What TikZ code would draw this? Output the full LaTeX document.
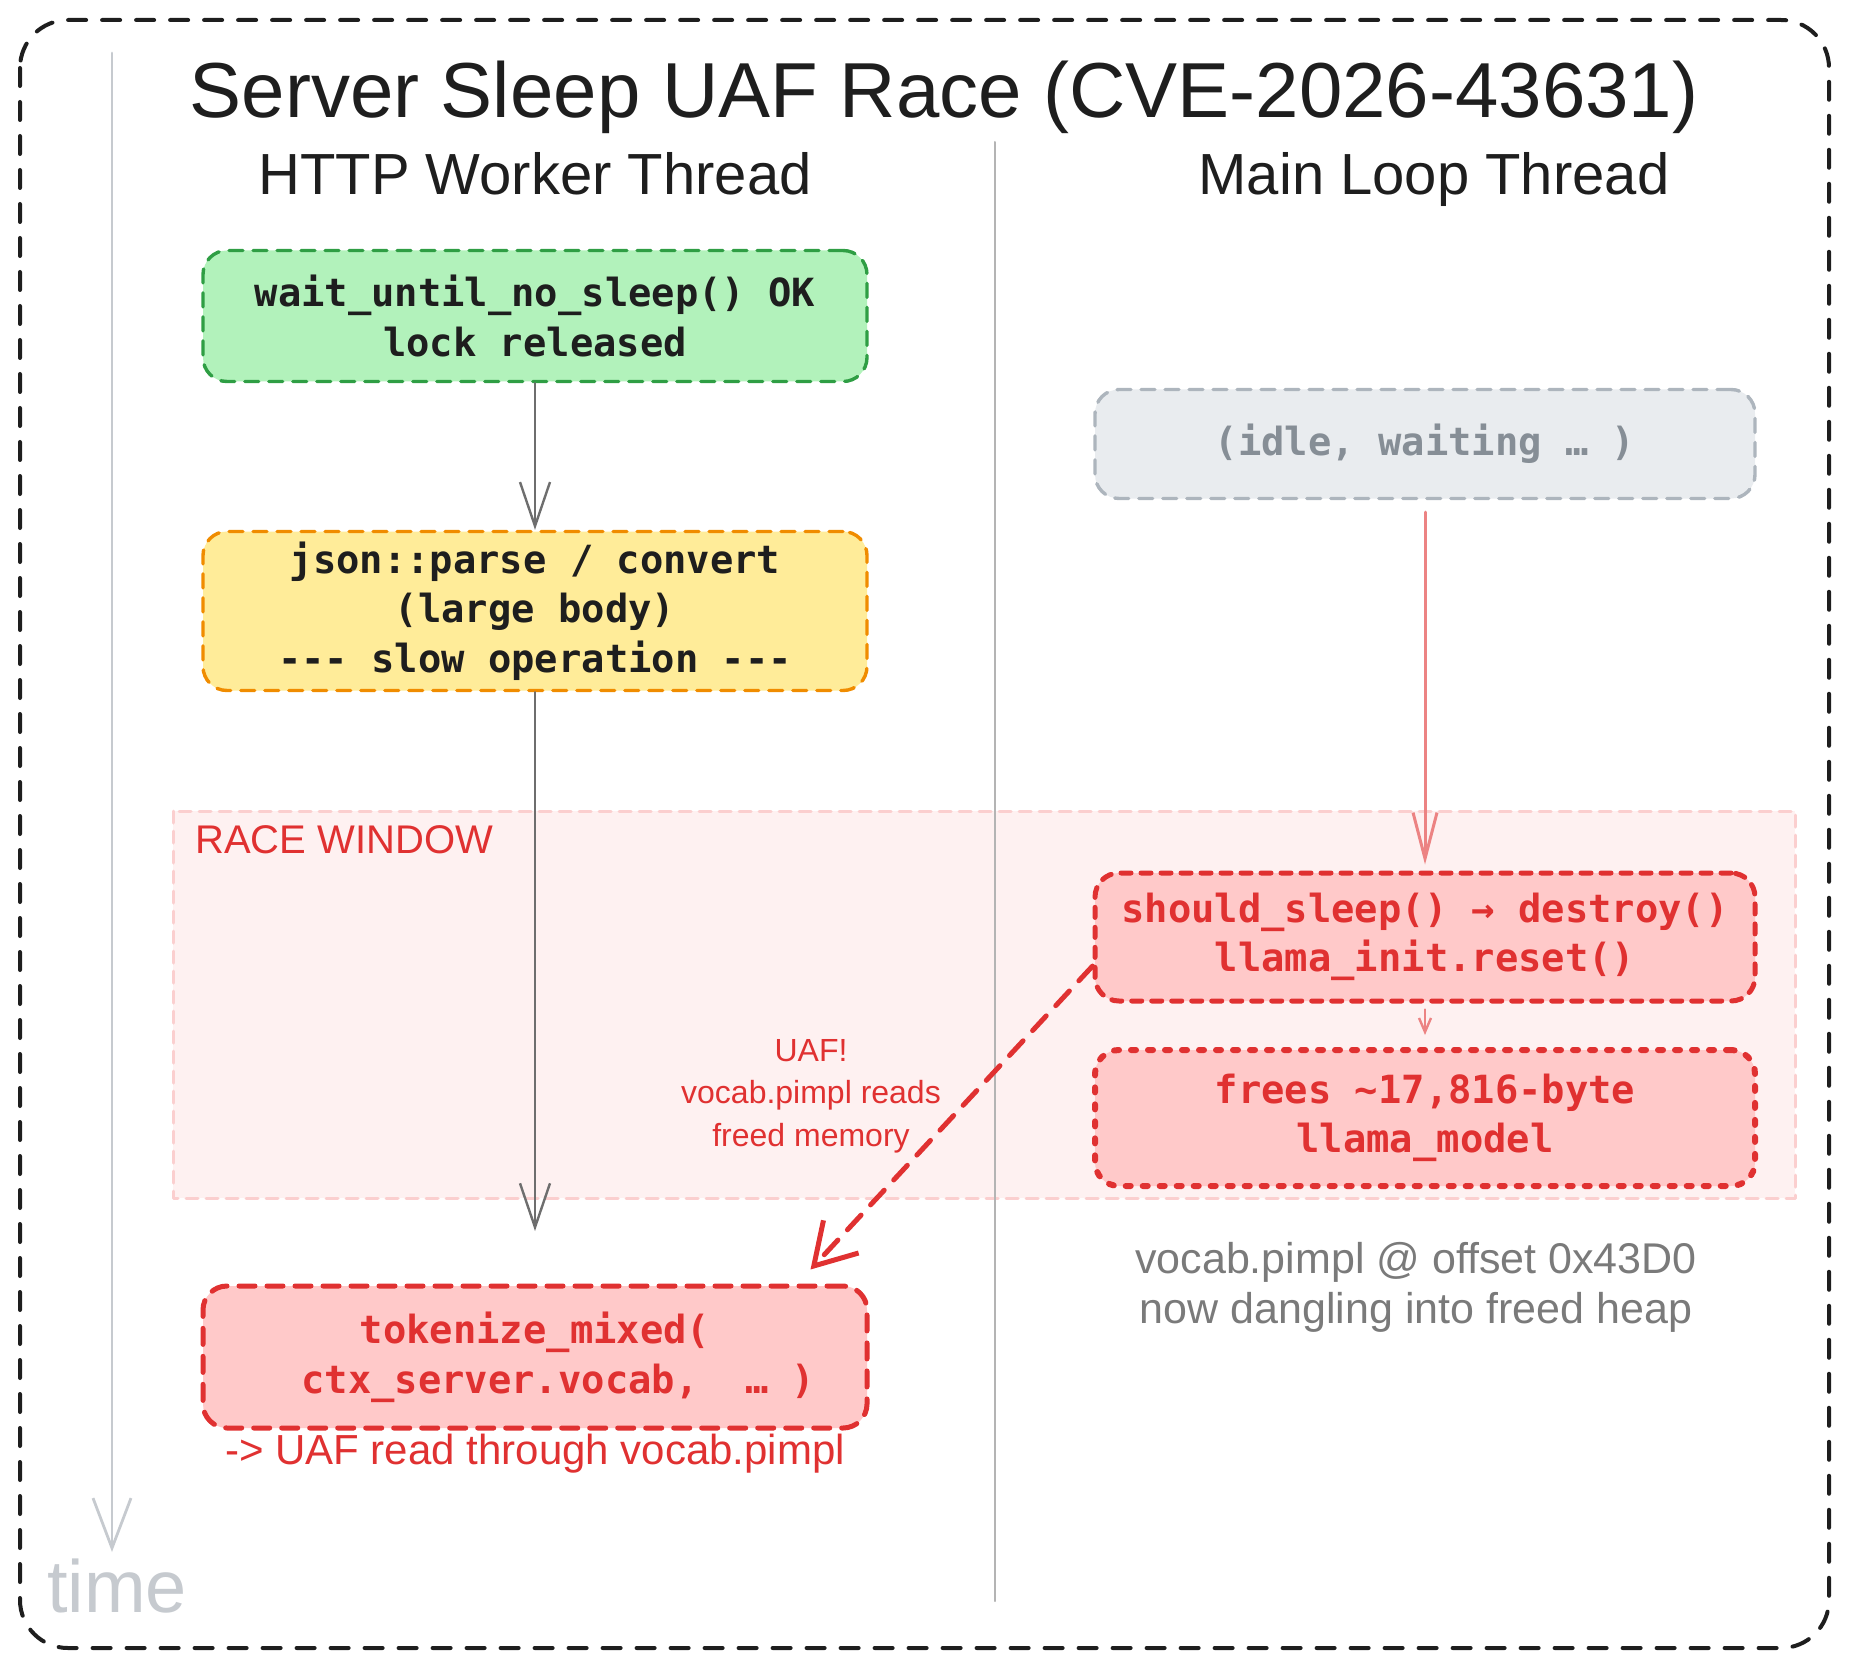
\documentclass[tikz,border=0pt]{standalone}
\usepackage{fontspec}
\setmainfont{Liberation Sans}
\setmonofont{DejaVu Sans Mono}
\usetikzlibrary{arrows.meta}
\definecolor{ink}{HTML}{1E1E1E}
\definecolor{okline}{HTML}{2F9E44}
\definecolor{okfill}{HTML}{B2F2BB}
\definecolor{slowline}{HTML}{F08C00}
\definecolor{slowfill}{HTML}{FFEC99}
\definecolor{idleline}{HTML}{ADB5BD}
\definecolor{idlefill}{HTML}{E9ECEF}
\definecolor{idletext}{HTML}{868E96}
\definecolor{uafred}{HTML}{E03131}
\definecolor{uaffill}{HTML}{FFC9C9}
\definecolor{racefill}{HTML}{FEF1F1}
\definecolor{raceline}{HTML}{FBCFCF}
\definecolor{flowgray}{HTML}{6E6E6E}
\definecolor{softred}{HTML}{EC8383}
\definecolor{timegray}{HTML}{C6CACF}
\definecolor{rulegray}{HTML}{B4B4B4}
\definecolor{notegray}{HTML}{7A7A7A}
\newcommand\codefont{\ttfamily\bfseries\fontsize{19.4}{24.8}\selectfont}
\newcommand\handfont[2]{\fontsize{#1}{#2}\selectfont}
\begin{document}
\begin{tikzpicture}[x=.5pt, y=-.5pt, line join=round, line cap=round,
  >={Straight Barb[length=22pt,width=15pt]},
  box/.style={draw, rounded corners=12pt, line width=1.7pt, dash pattern=on 7pt off 5pt,
    minimum width=332pt, align=center, inner sep=2pt, text=ink, font=\codefont},
  uafbox/.style={box, draw=uafred, fill=uaffill, text=uafred, line width=2.5pt}]
\useasboundingbox (0,0) rectangle (1850,1668);
\draw[ink, line width=2pt, dash pattern=on 9pt off 8pt, rounded corners=24pt] (20,20) rectangle (1829,1648);
% race window
\draw[raceline, fill=racefill, line width=1.5pt, dash pattern=on 6pt off 4pt] (173,811) rectangle (1795,1198);
\node[anchor=base west, inner sep=0pt, text=uafred, font=\handfont{20}{24}] (race) at (195,853) {RACE WINDOW};
\draw[rulegray, line width=1pt] (995,142) -- (995,1601);
% time axis
\coordinate (ttop) at (112,53);
\coordinate (tend) at (112,1552);
\draw[timegray, line width=1.4pt, ->, >={Straight Barb[length=25pt,width=19pt]}] (ttop) -- (tend);
\node[anchor=base, text=timegray, font=\handfont{37}{44}] (time) at (117,1612) {time};
\node[anchor=base, text=ink, font=\handfont{39}{46}] (title) at (944,118) {Server Sleep UAF Race (CVE-2026-43631)};
\foreach \x/\t/\n in {535/HTTP Worker Thread/worker, 1434/Main Loop Thread/mainloop}
  \node[anchor=base, text=ink, font=\handfont{29}{34}] (\n) at (\x,195) {\t};
% worker side
\node[box, draw=okline, fill=okfill, minimum height=65.5pt] (waitok) at (535,316) {wait\_until\_no\_sleep() OK\\lock released};
\node[box, draw=slowline, fill=slowfill, minimum height=79.5pt] (parse) at (535,611) {json::parse / convert\\(large body)\\-{}-{}- slow operation -{}-{}-};
\node[uafbox, dash pattern=on 8pt off 6pt, minimum height=71pt] (tokenize) at (535,1357) {tokenize\_mixed(\\~~ctx\_server.vocab,~ … )};
\coordinate (pend) at (535,1231);
\draw[flowgray, line width=1.2pt, ->] (waitok) -- (parse);
\draw[flowgray, line width=1.2pt, ->] (parse) -- (pend);
\node[text=uafred, font=\handfont{21}{25}] (readnote) at (535,1454) {-> UAF read through vocab.pimpl};
% main loop side
\node[box, draw=idleline, fill=idlefill, text=idletext, minimum width=330pt, minimum height=54.5pt] (idle) at (1425,444) {(idle, waiting … )};
\node[uafbox, minimum width=330pt, minimum height=64pt, dash pattern=on 5pt off 5pt] (destroy) at (1425,937) {should\_sleep() → destroy()\\llama\_init.reset()};
\node[uafbox, minimum width=330pt, minimum height=68pt, dash pattern=on 2.5pt off 6pt, line width=3pt] (frees) at (1425,1118) {frees \textasciitilde17,816-byte\\llama\_model};
\draw[softred, line width=1.5pt, ->, >={Straight Barb[length=23pt,width=12pt]}, shorten <=6pt, shorten >=3pt] (idle) -- (destroy);
\draw[softred, line width=1.2pt, ->, >={Straight Barb[length=7pt,width=6pt]}, shorten <=3pt, shorten >=6pt] (destroy) -- (frees);
\node[text=notegray, align=center, font=\handfont{21.5}{25}] (dangling) at (1416,1287) {vocab.pimpl @ offset 0x43D0\\now dangling into freed heap};
% use after free
\draw[uafred, line width=2.5pt, dash pattern=on 10pt off 7pt, ->, >={Straight Barb[length=20pt,width=24pt]}] (destroy.185) -- ([xshift=-29.5pt,yshift=7pt]tokenize.north east);
\node[text=uafred, align=center, font=\handfont{16}{21.3}] (uaf) at (811,1096) {UAF!\\vocab.pimpl reads\\freed memory};
\end{tikzpicture}
\end{document}
